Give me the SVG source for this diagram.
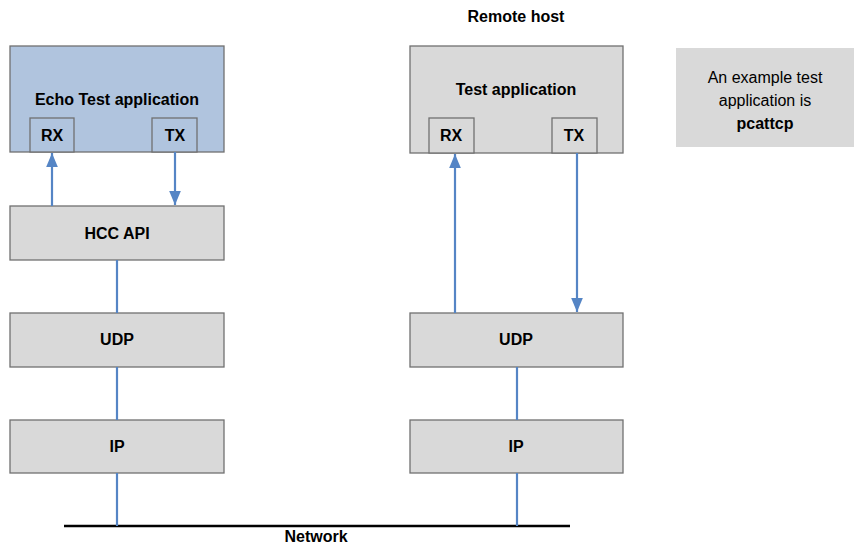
<svg xmlns="http://www.w3.org/2000/svg" width="854" height="546" viewBox="0 0 854 546">
<style>
.box{fill:#d9d9d9;stroke:#707070;stroke-width:1.3}
.blue{fill:#b0c4de;stroke:#707070;stroke-width:1.3}
.t{font-family:"Liberation Sans",Arial,sans-serif;font-size:16px;font-weight:bold;fill:#000;text-anchor:middle}
.n{font-family:"Liberation Sans",Arial,sans-serif;font-size:16px;fill:#000;text-anchor:middle}
.c{stroke:#5585c5;stroke-width:2.2;fill:none}
</style>
<defs>
<marker id="ah" viewBox="0 0 12 10" refX="12" refY="5" markerWidth="6.5" markerHeight="5.5" markerUnits="strokeWidth" orient="auto">
<path d="M0,0 L12,5 L0,10 z" fill="#5585c5"/>
</marker>
</defs>
<rect x="0" y="0" width="854" height="546" fill="#fff"/>
<g id="left-app">
<rect class="blue" x="10" y="46" width="214" height="106"/>
<text class="t" x="117" y="105">Echo Test application</text>
<rect class="blue" x="30" y="118" width="44" height="34"/>
<text class="t" x="52" y="141">RX</text>
<rect class="blue" x="152" y="118" width="45" height="34"/>
<text class="t" x="175" y="141">TX</text>
</g>
<g id="hcc-api"><rect class="box" x="10" y="206" width="214" height="54"/><text class="t" x="117" y="239">HCC API</text></g>
<g id="udp-left"><rect class="box" x="10" y="313" width="214" height="54"/><text class="t" x="117" y="345">UDP</text></g>
<g id="ip-left"><rect class="box" x="10" y="420" width="214" height="53"/><text class="t" x="117" y="452">IP</text></g>
<g id="remote-label"><text class="t" x="516" y="22">Remote host</text></g>
<g id="right-app">
<rect class="box" x="410" y="46" width="213" height="107"/>
<text class="t" x="516" y="95">Test application</text>
<rect class="box" x="429" y="118" width="45" height="35"/>
<text class="t" x="451" y="141">RX</text>
<rect class="box" x="552" y="118" width="45" height="35"/>
<text class="t" x="574" y="141">TX</text>
</g>
<g id="udp-right"><rect class="box" x="410" y="313" width="213" height="54"/><text class="t" x="516" y="345">UDP</text></g>
<g id="ip-right"><rect class="box" x="410" y="420" width="213" height="53"/><text class="t" x="516" y="452">IP</text></g>
<g id="note">
<rect x="676" y="48" width="178" height="99" fill="#d9d9d9"/>
<text class="n" x="765" y="83">An example test</text>
<text class="n" x="765" y="106">application is</text>
<text class="t" x="765" y="129">pcattcp</text>
</g>
<g id="network">
<line x1="64" y1="526" x2="570" y2="526" stroke="#000" stroke-width="2.5"/>
<text class="t" x="316" y="542">Network</text>
</g>
<g id="connectors">
<line class="c" x1="52" y1="206" x2="52" y2="153" marker-end="url(#ah)"/>
<line class="c" x1="175" y1="152" x2="175" y2="205" marker-end="url(#ah)"/>
<line class="c" x1="117" y1="260" x2="117" y2="313"/>
<line class="c" x1="117" y1="367" x2="117" y2="420"/>
<line class="c" x1="117" y1="473" x2="117" y2="526"/>
<line class="c" x1="455" y1="313" x2="455" y2="154" marker-end="url(#ah)"/>
<line class="c" x1="577" y1="153" x2="577" y2="312" marker-end="url(#ah)"/>
<line class="c" x1="517" y1="367" x2="517" y2="420"/>
<line class="c" x1="517" y1="473" x2="517" y2="526"/>
</g>
</svg>
